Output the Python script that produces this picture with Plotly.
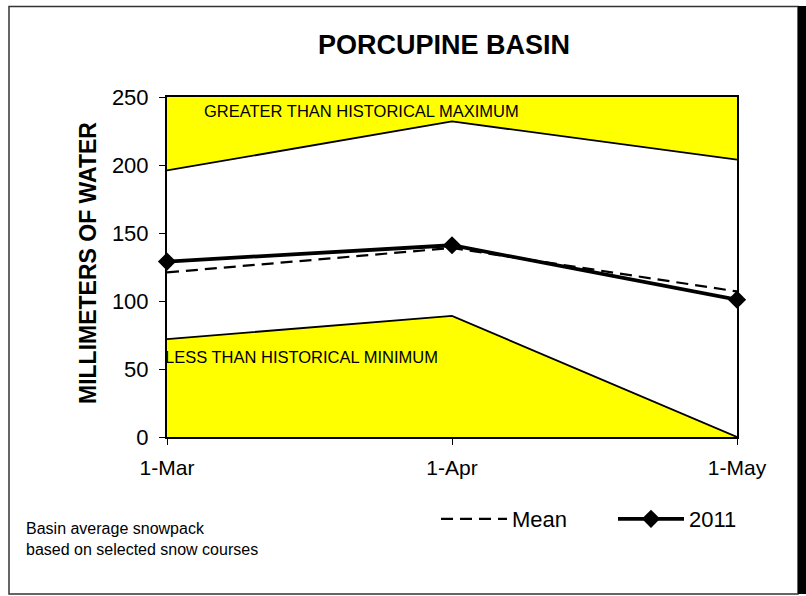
import plotly.graph_objects as go

dates = ["1-Mar", "1-Apr", "1-May"]
hist_max = [196, 232, 204]
hist_min = [72, 89, 0]
mean_vals = [121, 139, 107]
y2011 = [129, 141, 101]
chart_top = [250, 250, 250]
y_ticks = [0, 50, 100, 150, 200, 250]

W, H = 806, 596
L, R, T, B = 167, 737, 97, 437  # plot area in page pixels


def px(x):
    return (x - L) / (R - L)


def py(y):
    return (B - y) / (B - T)


fig = go.Figure()
yellow = "#FFFF00"
fig.add_trace(go.Scatter(x=dates, y=hist_min, mode="lines", fill="tozeroy",
                         fillcolor=yellow, line=dict(color="black", width=1.8),
                         showlegend=False, hoverinfo="skip"))
fig.add_trace(go.Scatter(x=dates, y=hist_max, mode="lines",
                         line=dict(color="black", width=1.8),
                         showlegend=False, hoverinfo="skip"))
fig.add_trace(go.Scatter(x=dates, y=chart_top, mode="lines", fill="tonexty",
                         fillcolor=yellow, line=dict(color="rgba(0,0,0,0)", width=0),
                         showlegend=False, hoverinfo="skip"))
fig.add_trace(go.Scatter(x=dates, y=mean_vals, mode="lines", name="Mean",
                         line=dict(color="black", width=2.2, dash="12px,7px")))
fig.add_trace(go.Scatter(x=dates, y=y2011, mode="lines+markers", name="2011",
                         line=dict(color="black", width=3.8),
                         marker=dict(symbol="diamond", size=14, color="black"),
                         cliponaxis=False))

fig.update_layout(
    width=W, height=H,
    margin=dict(l=L, r=W - R, t=T, b=H - B, pad=0, autoexpand=False),
    paper_bgcolor="white", plot_bgcolor="white",
    font=dict(family="Arial, Liberation Sans, sans-serif", color="black"),
    title=dict(text="<b>PORCUPINE BASIN</b>", x=444 / W, xanchor="center",
               y=1 - 45 / H, yanchor="middle",
               font=dict(size=27, color="black")),
    xaxis=dict(type="category", range=[0, 2], showgrid=False, zeroline=False,
               showline=True, linecolor="black", linewidth=2, mirror=True,
               ticks="outside", ticklen=6, tickcolor="black",
               tickfont=dict(size=21), ticklabelstandoff=5),
    yaxis=dict(range=[0, 250], tickvals=y_ticks, showgrid=False, zeroline=False,
               showline=True, linecolor="black", linewidth=2, mirror=True,
               ticks="outside", ticklen=6, tickcolor="black",
               tickfont=dict(size=22), ticklabelstandoff=6),
    legend=dict(orientation="h", x=px(436), y=py(519), xanchor="left",
                yanchor="middle", font=dict(size=22), itemwidth=66,
                entrywidth=96, entrywidthmode="pixels", traceorder="normal",
                bgcolor="rgba(0,0,0,0)"),
    showlegend=True,
)

fig.add_annotation(text="<b>MILLIMETERS OF WATER</b>", xref="paper", yref="paper",
                   x=px(88), y=py(263), textangle=-90, showarrow=False,
                   font=dict(size=23), xanchor="center", yanchor="middle")
fig.add_annotation(text="GREATER THAN HISTORICAL MAXIMUM", xref="paper", yref="paper",
                   x=px(202), y=py(111), xanchor="left", yanchor="middle",
                   showarrow=False, font=dict(size=16.5))
fig.add_annotation(text="LESS THAN HISTORICAL MINIMUM", xref="paper", yref="paper",
                   x=px(163), y=py(357), xanchor="left", yanchor="middle",
                   showarrow=False, font=dict(size=16.5))
fig.add_annotation(text="Basin average snowpack<br>based on selected snow courses",
                   xref="paper", yref="paper", x=px(24), y=py(539),
                   xanchor="left", yanchor="middle", align="left",
                   showarrow=False, font=dict(size=16))

# outer frame
fig.add_shape(type="rect", xref="paper", yref="paper",
              x0=px(9), x1=px(798), y0=py(594), y1=py(6.5),
              line=dict(color="#333333", width=1.5), layer="below")
fig.add_shape(type="rect", xref="paper", yref="paper",
              x0=px(798), x1=px(806), y0=py(594), y1=py(6),
              line=dict(width=0), fillcolor="black", layer="below")

fig.write_html("out.html", config={"displayModeBar": False},
               post_script="document.body.style.margin='0px';"
                           "document.body.style.overflow='hidden';")
